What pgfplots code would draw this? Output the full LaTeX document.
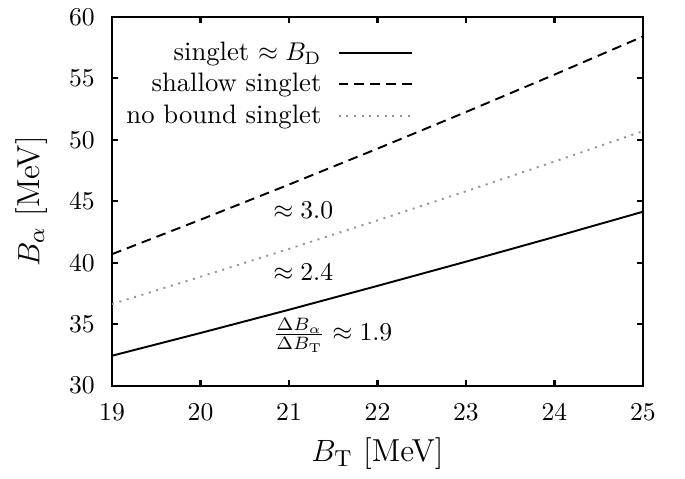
\documentclass[border=0pt]{standalone}
\usepackage{pgfplots}
\pgfplotsset{compat=1.18}
\definecolor{dotgray}{RGB}{150,150,150}
\newcommand{\mainsz}{\fontsize{10.4}{12.5}\selectfont}
\newcommand{\labsz}{\fontsize{12.4}{15}\selectfont}
\begin{document}
\begin{tikzpicture}
\begin{axis}[
  scale only axis,
  width=207.1pt, height=143.9pt,
  xmin=19, xmax=25, ymin=30, ymax=60,
  xtick={19,20,...,25}, ytick={30,35,...,60},
  tick align=inside,
  major tick length=2.3pt,
  axis line style={line width=0.9pt},
  tick style={line width=0.8pt, black},
  tick label style={font=\mainsz},
  xticklabel shift=3.5pt,
  yticklabel shift=3.2pt,
  xlabel={$B_\mathrm{T}$ [MeV]},
  ylabel={$B_\alpha$ [MeV]},
  x label style={font=\labsz, at={(axis description cs:0.5,0)}, anchor=center, yshift=-26.5pt},
  y label style={font=\labsz, at={(axis description cs:0,0.5)}, anchor=center, yshift=31.4pt},
  legend plot pos=right,
  legend cell align=right,
  legend style={font=\mainsz, draw=none, fill=none, inner sep=0pt, at={(axis description cs:0.567,1)}, anchor=north east, yshift=-7.5pt, row sep=-0.4pt, column sep=4.3pt},
  legend image code/.code={\draw[#1] (0pt,0pt) -- (28.5pt,0pt);},
]
\addplot[black, line width=0.75pt] coordinates {(19,32.44) (20,34.29) (21,36.18) (22,38.12) (23,40.09) (24,42.10) (25,44.15)};
\addlegendentry{singlet $\approx B_\mathrm{D}$}
\addplot[black, line width=0.75pt, dash pattern=on 3.8pt off 2.4pt] coordinates {(19,40.70) (20,43.50) (21,46.36) (22,49.28) (23,52.26) (24,55.30) (25,58.40)};
\addlegendentry{shallow singlet}
\addplot[dotgray, line width=0.75pt, dash pattern=on 0.8pt off 2.2pt] coordinates {(19,36.64) (20,38.86) (21,41.13) (22,43.45) (23,45.81) (24,48.23) (25,50.70)};
\addlegendentry{no bound singlet}
\node[anchor=west, font=\mainsz] at (axis cs:20.72,44.3) {$\approx 3.0$};
\node[anchor=west, font=\mainsz] at (axis cs:20.72,39.2) {$\approx 2.4$};
\node[anchor=west, font=\mainsz] at (axis cs:20.72,34.1) {$\frac{\Delta B_\alpha}{\Delta B_\mathrm{T}} \approx 1.9$};
\end{axis}
\path (current axis.south west) ++(-43.7pt,-35.5pt) coordinate (bbA);
\path (current axis.north east) ++(16.4pt,6.2pt) coordinate (bbB);
\useasboundingbox (bbA) rectangle (bbB);
\end{tikzpicture}
\end{document}
